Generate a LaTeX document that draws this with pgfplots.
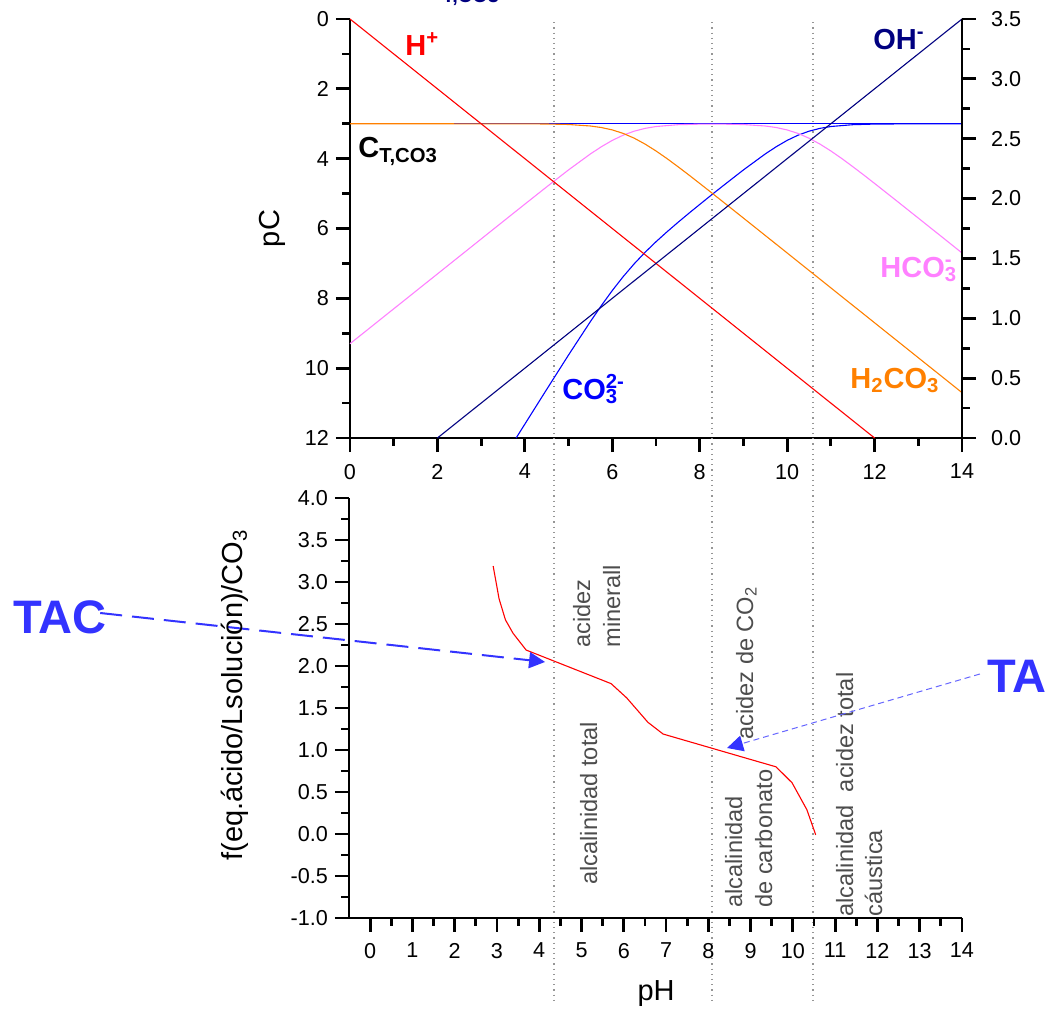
\documentclass[border=0pt]{standalone}
\usepackage{fontspec}
\setmainfont{Liberation Sans}
\usepackage{pgfplots}
\pgfplotsset{compat=1.18}
\usetikzlibrary{arrows.meta}

\definecolor{hred}{RGB}{255,0,0}
\definecolor{ohnavy}{RGB}{0,0,128}
\definecolor{cblue}{RGB}{0,0,255}
\definecolor{hcopink}{RGB}{255,128,255}
\definecolor{hcoorange}{RGB}{255,128,0}
\definecolor{tagblue}{RGB}{51,51,255}
\definecolor{tablue}{RGB}{102,102,255}
\definecolor{txtgray}{RGB}{77,77,77}
\definecolor{vgray}{RGB}{150,150,150}

\newcommand{\subsup}[2]{\makebox[0pt][l]{\textsuperscript{#2}}\textsubscript{#1}}
\newcommand{\lab}{\fontsize{14.5}{17}\selectfont\bfseries}
\newcommand{\ann}{\fontsize{11.8}{14}\selectfont}

\pgfplotsset{
  chem/.style={
    scale only axis,
    clip=false,
    tick align=outside,
    axis line style={-, line width=1.4pt},
    major tick length=7pt,
    minor tick length=3.8pt,
    tick style={black, line width=1.4pt},
    tick label style={font=\fontsize{10.8}{12}\selectfont},
    /pgf/number format/assume math mode=true,
    label style={font=\fontsize{14.5}{17}\selectfont},
  },
}

\begin{document}
\begin{tikzpicture}

% diagrama log C - pH
\begin{axis}[chem,
  at={(175pt,-9.5pt)}, anchor=north west,
  width=306pt, height=209.5pt,
  xmin=0, xmax=14, ymin=0, ymax=12, y dir=reverse,
  axis x line*=bottom, axis y line*=left,
  xtick={0,2,...,14}, ytick={0,2,...,12},
  minor x tick num=1, minor y tick num=1,
  xticklabel style={yshift=-2.5pt},
  ylabel={pC},
  ylabel style={at={(axis description cs:-0.126,0.5)}, anchor=center},
]
% lineas punteadas de los puntos de equivalencia
\draw[vgray, dotted, line width=0.6pt] (axis cs:4.667,0.09) -- (axis cs:4.667,28.1);
\draw[vgray, dotted, line width=0.6pt] (axis cs:8.281,0.09) -- (axis cs:8.281,28.1);
\draw[vgray, dotted, line width=0.6pt] (axis cs:10.59,0.09) -- (axis cs:10.59,28.1);

% C_T
\addplot[cblue, line width=0.55pt] coordinates {(0,3) (14,3)};
% CO3 2-
\addplot[cblue, line width=0.55pt] coordinates {
 (3.8,12.000) (4,11.602) (4.5,10.607) (5,9.621) (5.5,8.664) (5.75,8.208)
 (6,7.776) (6.25,7.377) (6.5,7.013) (6.75,6.682) (7,6.379) (7.25,6.097)
 (7.5,5.827) (7.75,5.566) (8,5.311) (8.25,5.059) (8.5,4.810) (9,4.322)
 (9.5,3.864) (9.75,3.658) (10,3.476) (10.25,3.327) (10.5,3.213) (10.75,3.132)
 (11,3.079) (11.5,3.027) (12,3.009) (13,3.001) (14,3.000)};
% HCO3 -
\addplot[hcopink, line width=0.55pt] coordinates {
 (0,9.300) (3.5,5.801) (4,5.302) (4.5,4.807) (5,4.321) (5.5,3.864) (5.75,3.658)
 (6,3.476) (6.25,3.327) (6.5,3.213) (6.75,3.132) (7,3.079) (7.5,3.027)
 (8,3.011) (8.5,3.010) (9,3.022) (9.5,3.064) (9.75,3.108) (10,3.177)
 (10.25,3.277) (10.5,3.413) (10.75,3.582) (11,3.779) (11.25,3.996)
 (11.5,4.227) (11.75,4.465) (12,4.709) (12.5,5.203) (13,5.701) (14,6.700)};
% H2CO3
\addplot[hcoorange, line width=0.55pt] coordinates {
 (0,3.000) (4,3.002) (4.5,3.007) (5,3.021) (5.5,3.064) (5.75,3.108) (6,3.176)
 (6.25,3.277) (6.5,3.412) (6.75,3.582) (7,3.779) (7.25,3.996) (7.5,4.227)
 (7.75,4.465) (8,4.709) (8.25,4.955) (8.5,5.203) (9,5.701) (9.5,6.200)
 (10,6.700) (14,10.700)};
% H+ y OH-
\addplot[hred, line width=0.55pt] coordinates {(0,0) (12,12)};
\addplot[ohnavy, line width=0.55pt] coordinates {(2,12) (14,0)};

\node[anchor=base west, inner sep=0, text=ohnavy, font=\fontsize{10}{12}\selectfont\bfseries] at (axis cs:2.105,-0.46) {T,CO3};
\node[anchor=base west, inner sep=0, text=hred, font=\lab] at (axis cs:1.258,1.031) {H\textsuperscript{+}};
\node[anchor=base west, inner sep=0, text=ohnavy, font=\lab] at (axis cs:11.964,0.859) {OH\textsuperscript{-}};
\node[anchor=base west, inner sep=0, text=black, font=\lab] at (axis cs:0.183,3.98) {C\textsubscript{T,CO3}};
\node[anchor=base west, inner sep=0, text=hcopink, font=\lab] at (axis cs:12.124,7.389) {HCO\subsup{3}{-}};
\node[anchor=base west, inner sep=0, text=hcoorange, font=\lab] at (axis cs:11.438,10.568) {H\textsubscript{2}CO\textsubscript{3}};
\node[anchor=base west, inner sep=0, text=cblue, font=\lab] at (axis cs:4.85,10.883) {CO\subsup{3}{2-}};
\end{axis}

% eje derecho
\begin{axis}[chem,
  at={(175pt,-9.5pt)}, anchor=north west,
  width=306pt, height=209.5pt,
  xmin=0, xmax=14, ymin=0, ymax=3.5,
  axis x line=none, axis y line*=right,
  ytick={0,0.5,...,3.5}, minor y tick num=1,
  yticklabel style={xshift=4pt, /pgf/number format/.cd, fixed, fixed zerofill, precision=1},
]
\addplot[draw=none] coordinates {(0,0) (14,3.5)};
\end{axis}

% curva de valoracion
\begin{axis}[chem,
  at={(174.5pt,-249pt)}, anchor=north west,
  width=306.5pt, height=210pt,
  xmin=-0.5, xmax=14, ymin=-1, ymax=4,
  axis x line*=bottom, axis y line*=left,
  xtick={0,...,14}, ytick={-1,-0.5,...,4},
  minor x tick num=1, minor y tick num=1,
  xticklabel style={yshift=-2pt},
  yticklabel style={/pgf/number format/.cd, fixed, fixed zerofill, precision=1},
  xlabel={pH}, ylabel={f(eq.ácido/Lsolución)/CO\textsubscript{3}},
  xlabel style={at={(axis description cs:0.501,-0.179)}, anchor=center},
  ylabel style={at={(axis description cs:-0.186,0.531)}, anchor=center},
]
\addplot[hred, line width=0.55pt] coordinates {
 (2.91,3.19) (3.05,2.80) (3.2,2.55) (3.38,2.39) (3.69,2.19) (5.70,1.79)
 (6.07,1.62) (6.57,1.33) (6.93,1.19) (8.98,0.89) (9.60,0.80) (9.98,0.61)
 (10.33,0.29) (10.54,-0.01)};

\node[rotate=90, anchor=base west, inner sep=0, text=txtgray, font=\ann] at (axis cs:5.203,2.214) {acidez};
\node[rotate=90, anchor=base west, inner sep=0, text=txtgray, font=\ann] at (axis cs:5.912,2.214) {minerall};
\node[rotate=90, anchor=base west, inner sep=0, text=txtgray, font=\ann] at (axis cs:5.368,-0.607) {alcalinidad total};
\node[rotate=90, anchor=base west, inner sep=0, text=txtgray, font=\ann] at (axis cs:9.057,1.119) {acidez de CO\textsubscript{2}};
\node[rotate=90, anchor=base west, inner sep=0, text=txtgray, font=\ann] at (axis cs:8.797,-0.881) {alcalinidad};
\node[rotate=90, anchor=base west, inner sep=0, text=txtgray, font=\ann] at (axis cs:9.507,-0.881) {de carbonato};
\node[rotate=90, anchor=base west, inner sep=0, text=txtgray, font=\ann] at (axis cs:11.422,-0.988) {alcalinidad\ \ acidez total};
\node[rotate=90, anchor=base west, inner sep=0, text=txtgray, font=\ann] at (axis cs:12.108,-0.988) {cáustica};

\node[anchor=center, inner sep=0, text=tagblue, font=\fontsize{23.5}{28}\selectfont\bfseries] at (axis cs:-7.331,2.583) {TAC};
\node[anchor=center, inner sep=0, text=tagblue, font=\fontsize{23.5}{28}\selectfont\bfseries] at (axis cs:15.30,1.881) {TA};
\draw[tagblue, line width=1pt, dash pattern=on 11pt off 5pt, -{Triangle[length=8pt,width=8pt]}]
  (axis cs:-6.385,2.631) -- (axis cs:4.138,2.048);
\draw[tablue, line width=0.5pt, dash pattern=on 3pt off 2pt, -{Triangle[length=8pt,width=8pt,color=tagblue]}]
  (axis cs:14.425,1.905) -- (axis cs:8.443,1.024);
\end{axis}

\pgfresetboundingbox
\path[use as bounding box] (0,0) rectangle (528.5pt,-508pt);
\end{tikzpicture}
\end{document}
